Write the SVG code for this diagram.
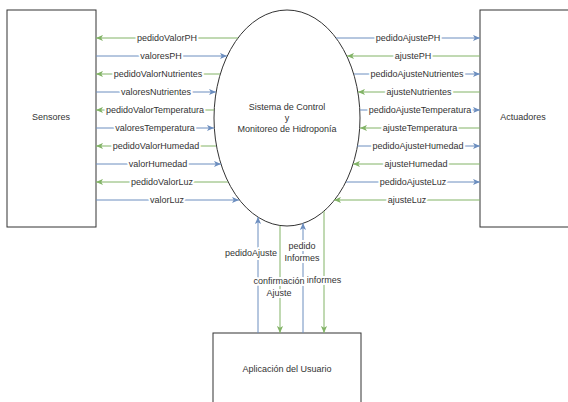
<svg xmlns="http://www.w3.org/2000/svg" width="568" height="402" viewBox="0 0 568 402">
<style>
.node{fill:#ffffff;stroke:#333333;stroke-width:1}
.t{font-family:"Liberation Sans",Arial,sans-serif;font-size:9px;fill:#333333;text-anchor:middle}
.lbl{font-family:"Liberation Sans",Arial,sans-serif;font-size:9px;fill:#333333;text-anchor:middle;stroke:#ffffff;stroke-width:4;stroke-linejoin:round;paint-order:stroke}
.b{stroke:#6c8ebf;stroke-width:1;fill:none;marker-end:url(#ab)}
.g{stroke:#82b366;stroke-width:1;fill:none;marker-end:url(#ag)}
</style>
<defs>
<marker id="ab" viewBox="0 0 8 8" refX="8" refY="4" markerWidth="7" markerHeight="7" markerUnits="userSpaceOnUse" orient="auto"><path d="M0,0.5 L8,4 L0,7.5 L2,4 Z" fill="#6c8ebf"/></marker>
<marker id="ag" viewBox="0 0 8 8" refX="8" refY="4" markerWidth="7" markerHeight="7" markerUnits="userSpaceOnUse" orient="auto"><path d="M0,0.5 L8,4 L0,7.5 L2,4 Z" fill="#82b366"/></marker>
</defs>
<rect width="568" height="402" fill="#ffffff"/>
<g id="sensores"><rect class="node" x="7" y="10" width="89" height="217"/><text class="t" x="51" y="120">Sensores</text></g>
<g id="actuadores"><rect class="node" x="480" y="10" width="92" height="217"/><text class="t" x="523" y="120">Actuadores</text></g>
<g id="sistema"><ellipse class="node" cx="287" cy="118" rx="73" ry="108"/><text class="t" x="287" y="110">Sistema de Control</text><text class="t" x="287" y="121">y</text><text class="t" x="287" y="132">Monitoreo de Hidroponía</text></g>
<g id="aplicacion"><rect class="node" x="213" y="333" width="148" height="80"/><text class="t" x="287" y="372">Aplicación del Usuario</text></g>
<g id="connectors">
<path class="g" d="M238,38 H96"/>
<path class="b" d="M96,56 H227"/>
<path class="g" d="M220,74 H96"/>
<path class="b" d="M96,92 H216"/>
<path class="g" d="M214,110 H96"/>
<path class="b" d="M96,128 H214"/>
<path class="g" d="M216,146 H96"/>
<path class="b" d="M96,164 H221"/>
<path class="g" d="M228,182 H96"/>
<path class="b" d="M96,200 H239"/>
<path class="b" d="M336,38 H480"/>
<path class="g" d="M480,56 H347"/>
<path class="b" d="M354,74 H480"/>
<path class="g" d="M480,92 H358"/>
<path class="b" d="M360,110 H480"/>
<path class="g" d="M480,128 H360"/>
<path class="b" d="M357,146 H480"/>
<path class="g" d="M480,164 H353"/>
<path class="b" d="M346,182 H480"/>
<path class="g" d="M480,200 H334"/>
<path class="b" d="M258,333 V217"/>
<path class="g" d="M280,226 V333"/>
<path class="b" d="M303,333 V223"/>
<path class="g" d="M324,211 V333"/>
<text class="lbl" x="167" y="41">pedidoValorPH</text>
<text class="lbl" x="161" y="59">valoresPH</text>
<text class="lbl" x="158" y="77">pedidoValorNutrientes</text>
<text class="lbl" x="156" y="95">valoresNutrientes</text>
<text class="lbl" x="155" y="113">pedidoValorTemperatura</text>
<text class="lbl" x="155" y="131">valoresTemperatura</text>
<text class="lbl" x="156" y="149">pedidoValorHumedad</text>
<text class="lbl" x="158" y="167">valorHumedad</text>
<text class="lbl" x="162" y="185">pedidoValorLuz</text>
<text class="lbl" x="167" y="203">valorLuz</text>
<text class="lbl" x="408" y="41">pedidoAjustePH</text>
<text class="lbl" x="413" y="59">ajustePH</text>
<text class="lbl" x="417" y="77">pedidoAjusteNutrientes</text>
<text class="lbl" x="419" y="95">ajusteNutrientes</text>
<text class="lbl" x="420" y="113">pedidoAjusteTemperatura</text>
<text class="lbl" x="420" y="131">ajusteTemperatura</text>
<text class="lbl" x="418" y="149">pedidoAjusteHumedad</text>
<text class="lbl" x="416" y="167">ajusteHumedad</text>
<text class="lbl" x="413" y="185">pedidoAjusteLuz</text>
<text class="lbl" x="407" y="203">ajusteLuz</text>
<text class="lbl" x="251" y="256">pedidoAjuste</text>
<text class="lbl" x="302" y="249">pedido</text>
<text class="lbl" x="302" y="261">Informes</text>
<text class="lbl" x="279" y="284">confirmación</text>
<text class="lbl" x="279" y="296">Ajuste</text>
<text class="lbl" x="324" y="283">informes</text>
</g>
</svg>
